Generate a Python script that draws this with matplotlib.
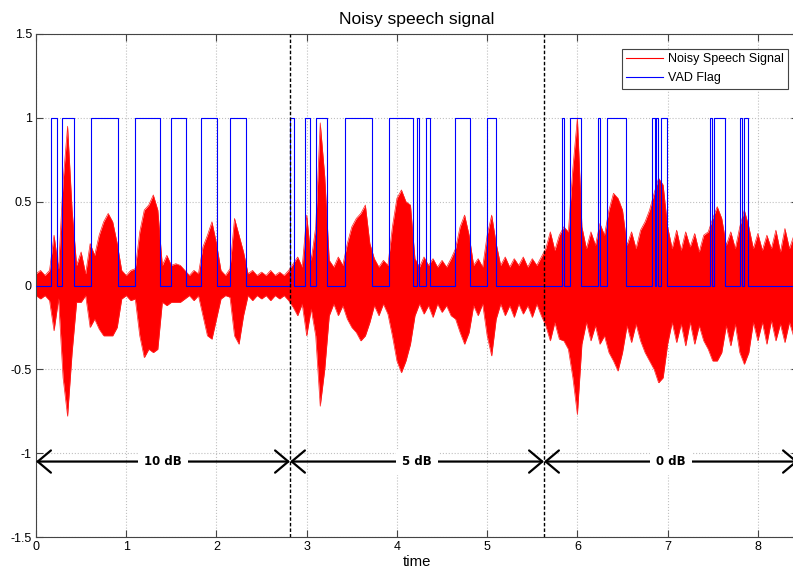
import numpy as np
import matplotlib
matplotlib.use("Agg")
import matplotlib.pyplot as plt
from matplotlib.lines import Line2D

# ---- data ----
env_step = 0.05  # seconds between envelope readings
signal_upper = [
    0.07, 0.09, 0.06, 0.09, 0.30, 0.10, 0.62, 0.95, 0.45, 0.12, 0.20, 0.07, 0.25, 0.18, 0.30, 0.38, 0.43, 0.38, 0.25, 0.09,
    0.06, 0.09, 0.10, 0.32, 0.45, 0.48, 0.54, 0.45, 0.12, 0.18, 0.12, 0.13, 0.12, 0.09, 0.06, 0.09, 0.07, 0.23, 0.30, 0.38,
    0.25, 0.09, 0.06, 0.10, 0.40, 0.30, 0.20, 0.07, 0.09, 0.06, 0.08, 0.06, 0.09, 0.06, 0.08, 0.06, 0.09, 0.13, 0.17, 0.11,
    0.42, 0.15, 0.35, 0.97, 0.65, 0.15, 0.11, 0.17, 0.12, 0.25, 0.35, 0.40, 0.43, 0.48, 0.25, 0.16, 0.11, 0.15, 0.12, 0.35,
    0.52, 0.57, 0.50, 0.48, 0.16, 0.11, 0.17, 0.12, 0.16, 0.11, 0.15, 0.11, 0.16, 0.22, 0.35, 0.42, 0.30, 0.12, 0.16, 0.11,
    0.30, 0.42, 0.25, 0.12, 0.17, 0.11, 0.16, 0.12, 0.17, 0.11, 0.16, 0.12, 0.17, 0.22, 0.32, 0.21, 0.30, 0.35, 0.32, 0.70,
    1.00, 0.35, 0.22, 0.32, 0.24, 0.37, 0.30, 0.45, 0.55, 0.52, 0.45, 0.24, 0.32, 0.22, 0.33, 0.38, 0.45, 0.55, 0.64, 0.60,
    0.35, 0.22, 0.33, 0.21, 0.32, 0.23, 0.31, 0.20, 0.30, 0.32, 0.40, 0.47, 0.40, 0.24, 0.32, 0.22, 0.35, 0.45, 0.35, 0.22,
    0.31, 0.21, 0.30, 0.22, 0.33, 0.20, 0.34, 0.22, 0.30, 0.21,
]
signal_lower = [
    -0.06, -0.08, -0.06, -0.09, -0.27, -0.08, -0.55, -0.78, -0.40, -0.10, -0.10, -0.06, -0.25, -0.20, -0.26, -0.30, -0.30, -0.30, -0.25, -0.08,
    -0.06, -0.09, -0.08, -0.30, -0.43, -0.38, -0.40, -0.38, -0.10, -0.12, -0.10, -0.10, -0.10, -0.08, -0.06, -0.09, -0.06, -0.18, -0.30, -0.32,
    -0.20, -0.08, -0.06, -0.07, -0.30, -0.35, -0.18, -0.06, -0.09, -0.06, -0.08, -0.06, -0.09, -0.06, -0.08, -0.06, -0.09, -0.13, -0.18, -0.11,
    -0.30, -0.14, -0.30, -0.72, -0.50, -0.18, -0.11, -0.18, -0.12, -0.20, -0.25, -0.28, -0.33, -0.30, -0.22, -0.12, -0.18, -0.11, -0.17, -0.30,
    -0.45, -0.52, -0.45, -0.35, -0.18, -0.11, -0.17, -0.12, -0.19, -0.11, -0.16, -0.12, -0.18, -0.20, -0.28, -0.35, -0.28, -0.12, -0.18, -0.11,
    -0.30, -0.42, -0.20, -0.11, -0.18, -0.12, -0.19, -0.11, -0.17, -0.12, -0.19, -0.11, -0.18, -0.24, -0.33, -0.22, -0.32, -0.33, -0.38, -0.55,
    -0.77, -0.35, -0.22, -0.33, -0.24, -0.35, -0.30, -0.40, -0.45, -0.51, -0.40, -0.24, -0.34, -0.23, -0.33, -0.40, -0.45, -0.50, -0.58, -0.55,
    -0.35, -0.22, -0.34, -0.23, -0.36, -0.22, -0.35, -0.24, -0.33, -0.38, -0.45, -0.45, -0.40, -0.24, -0.36, -0.23, -0.40, -0.47, -0.40, -0.22,
    -0.33, -0.22, -0.35, -0.21, -0.33, -0.23, -0.34, -0.22, -0.31, -0.22,
]
vad_on = [0.166, 0.284, 0.605, 1.100, 1.498, 1.834, 2.151,
          2.815, 2.985, 3.103, 3.421, 3.915, 4.218, 4.325, 4.649, 4.993,
          5.834, 5.915, 6.229, 6.328, 6.827, 6.871, 6.926, 7.465, 7.513, 7.801, 7.852]
vad_off = [0.236, 0.417, 0.911, 1.373, 1.660, 2.011, 2.332,
           2.864, 3.040, 3.229, 3.727, 4.173, 4.240, 4.369, 4.812, 5.103,
           5.856, 6.044, 6.251, 6.542, 6.860, 6.893, 6.989, 7.491, 7.631, 7.827, 7.889]
segment_bounds = [0.0, 2.815, 5.63, 8.445]
segment_labels = ["10 dB", "5 dB", "0 dB"]
xticks = [0, 1, 2, 3, 4, 5, 6, 7, 8]
yticks = [-1.5, -1, -0.5, 0, 0.5, 1, 1.5]
ytick_labels = ["-1.5", "-1", "-0.5", "0", "0.5", "1", "1.5"]

# ---- figure ----
plt.rcParams["font.family"] = ["Liberation Sans", "DejaVu Sans"]
W, H = 793, 575
fig = plt.figure(figsize=(W / 100, H / 100), dpi=100)
ax = fig.add_axes([36 / W, 1 - 537 / H, (798 - 36) / W, (537 - 34) / H])

t = np.round(np.arange(len(signal_upper)) * env_step, 3)
ax.fill_between(t, signal_lower, signal_upper, color="red", lw=0, zorder=2)
ax.plot(t, signal_upper, color="#ff2020", lw=0.5, zorder=2)
ax.plot(t, signal_lower, color="#ff2020", lw=0.5, zorder=2)

# VAD flag step signal
vx, vy = [0.0], [0.0]
for on, off in zip(vad_on, vad_off):
    vx += [on, on, off, off]
    vy += [0, 1, 1, 0]
vx.append(segment_bounds[-1])
vy.append(0)
ax.plot(vx, vy, color="#0000ff", lw=0.8, zorder=3)

# segment separators
for b in segment_bounds[1:-1]:
    ax.axvline(b, color="black", lw=1.0, ls=(0, (2.5, 1.5)), zorder=4)

# SNR arrows
for a, b, lab in zip(segment_bounds[:-1], segment_bounds[1:], segment_labels):
    ax.annotate("", xy=(a, -1.05), xytext=(b, -1.05),
                arrowprops=dict(arrowstyle="<->,head_length=0.95,head_width=0.8",
                                lw=1.6, color="black", mutation_scale=10,
                                shrinkA=0, shrinkB=0), zorder=5)
    ax.text((a + b) / 2, -1.05, lab, ha="center", va="center", fontsize=8.5,
            fontweight="bold", family="DejaVu Sans", zorder=6,
            bbox=dict(boxstyle="square,pad=0.55", fc="white", ec="none"))

ax.set_xlim(0, segment_bounds[-1])
ax.set_ylim(-1.5, 1.5)
ax.set_xticks(xticks)
ax.set_xticklabels([str(v) for v in xticks])
ax.set_yticks(yticks)
ax.set_yticklabels(ytick_labels)
ax.tick_params(direction="in", length=5, width=0.8, labelsize=9, top=True, right=True,
               color="#444444", pad=3)
ax.grid(True, color="#c0c0c0", ls=":", lw=0.8)
ax.set_axisbelow(True)
for s in ax.spines.values():
    s.set_color("#444444")
    s.set_linewidth(0.8)

ax.set_title("Noisy speech signal", fontsize=12.6, pad=7)
ax.set_xlabel("time", fontsize=10.7, labelpad=1)

handles = [Line2D([], [], color="red", lw=0.8), Line2D([], [], color="#0000ff", lw=0.8)]
leg = fig.legend(handles, ["Noisy Speech Signal", "VAD Flag"], loc="upper right",
                 bbox_to_anchor=(788 / W, 1 - 49 / H), bbox_transform=fig.transFigure,
                 fontsize=9, handlelength=2.95, handletextpad=0.4, borderpad=0.35,
                 labelspacing=0.56, fancybox=False, framealpha=1, borderaxespad=0)
leg.get_frame().set_edgecolor("#444444")
leg.get_frame().set_linewidth(0.8)

fig.savefig("out.png", dpi=100)
